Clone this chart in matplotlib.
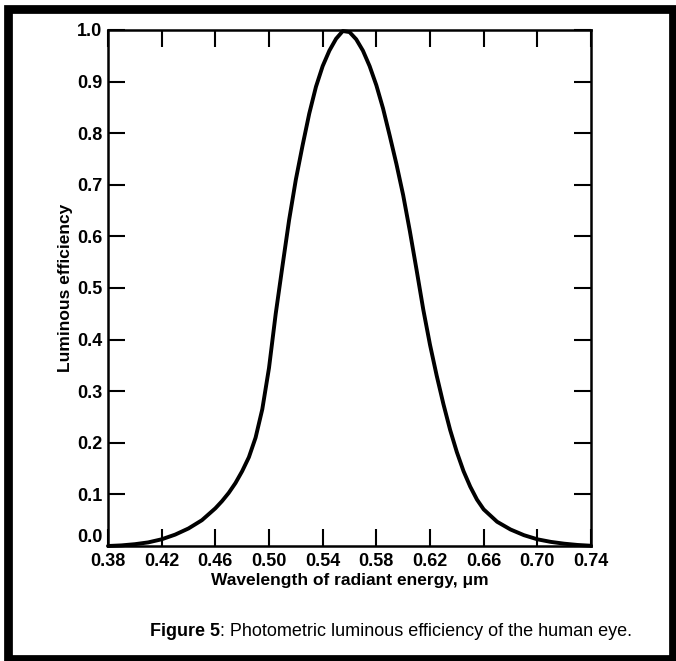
import matplotlib
matplotlib.use("Agg")
import matplotlib.pyplot as plt
from matplotlib.patches import Rectangle

# values (wavelength in um, relative efficiency)
wavelength = [0.38, 0.39, 0.40, 0.41, 0.42, 0.43, 0.44, 0.45, 0.46, 0.465,
              0.47, 0.475, 0.48, 0.485, 0.49, 0.495, 0.50, 0.505, 0.51, 0.515,
              0.52, 0.525, 0.53, 0.535, 0.54, 0.545, 0.55, 0.555, 0.56, 0.565,
              0.57, 0.575, 0.58, 0.585, 0.59, 0.595, 0.60, 0.605, 0.61, 0.615,
              0.62, 0.625, 0.63, 0.635, 0.64, 0.645, 0.65, 0.655, 0.66, 0.67,
              0.68, 0.69, 0.70, 0.71, 0.72, 0.73, 0.74]
efficiency = [0.0, 0.0012, 0.0035, 0.007, 0.013, 0.022, 0.034, 0.05, 0.073, 0.087,
              0.103, 0.122, 0.145, 0.172, 0.21, 0.265, 0.345, 0.45, 0.542, 0.632,
              0.71, 0.776, 0.838, 0.89, 0.93, 0.96, 0.983, 0.998, 0.996, 0.982,
              0.96, 0.93, 0.893, 0.848, 0.795, 0.74, 0.68, 0.61, 0.535, 0.458,
              0.39, 0.33, 0.275, 0.225, 0.182, 0.145, 0.115, 0.09, 0.071, 0.047,
              0.032, 0.021, 0.013, 0.008, 0.0045, 0.002, 0.0005]

x_ticks = [0.38, 0.42, 0.46, 0.50, 0.54, 0.58, 0.62, 0.66, 0.70, 0.74]
y_ticks = [0.0, 0.1, 0.2, 0.3, 0.4, 0.5, 0.6, 0.7, 0.8, 0.9, 1.0]

plt.rcParams["font.family"] = ["Liberation Sans", "DejaVu Sans"]

W, H = 676, 661
fig = plt.figure(figsize=(W / 100, H / 100), dpi=100)
ax = fig.add_axes([108 / W, 1 - 546 / H, (591 - 108) / W, (546 - 30) / H])

ax.plot(wavelength, efficiency, color="black", lw=2.8,
        solid_joinstyle="round", solid_capstyle="round", clip_on=False)
ax.set_xlim(0.38, 0.74)
ax.set_ylim(0.0, 1.0)
ax.set_xticks(x_ticks)
ax.set_xticklabels([f"{v:.2f}" for v in x_ticks])
ax.set_yticks(y_ticks)
ax.set_yticklabels([f"{v:.1f}" for v in y_ticks])
ax.tick_params(direction="in", length=12, width=1.5, top=True, right=True,
               labelsize=13)
ax.tick_params(axis="x", pad=5)
ax.tick_params(axis="y", pad=4)
for lab in ax.get_xticklabels() + ax.get_yticklabels():
    lab.set_fontweight("bold")
# the bottom y label sits a little above its tick in the original
ax.get_yticklabels()[0].set_verticalalignment("bottom")
for sp in ax.spines.values():
    sp.set_linewidth(1.8)

ax.set_xlabel("Wavelength of radiant energy, \u03bcm", fontsize=12.5,
              fontweight="bold", labelpad=2)
ax.set_ylabel("Luminous efficiency", fontsize=12.5, fontweight="bold", labelpad=3)

# caption: bold figure number then regular text
t1 = fig.text(150 / W, 1 - 632 / H, "Figure 5", fontsize=13, fontweight="bold",
              va="center", ha="left")
fig.canvas.draw()
bb = t1.get_window_extent(fig.canvas.get_renderer())
fig.text(bb.x1 / W, 1 - 632 / H, ": Photometric luminous efficiency of the human eye.",
         fontsize=13, va="center", ha="left")

# thick frame round the whole figure
fig.patches.append(Rectangle((7.5 / W, 1 - 659 / H), (673 - 7.5) / W, (659 - 8.5) / H,
                             transform=fig.transFigure, fill=False,
                             edgecolor="black", lw=6.3))

fig.savefig("out.png", dpi=100)
